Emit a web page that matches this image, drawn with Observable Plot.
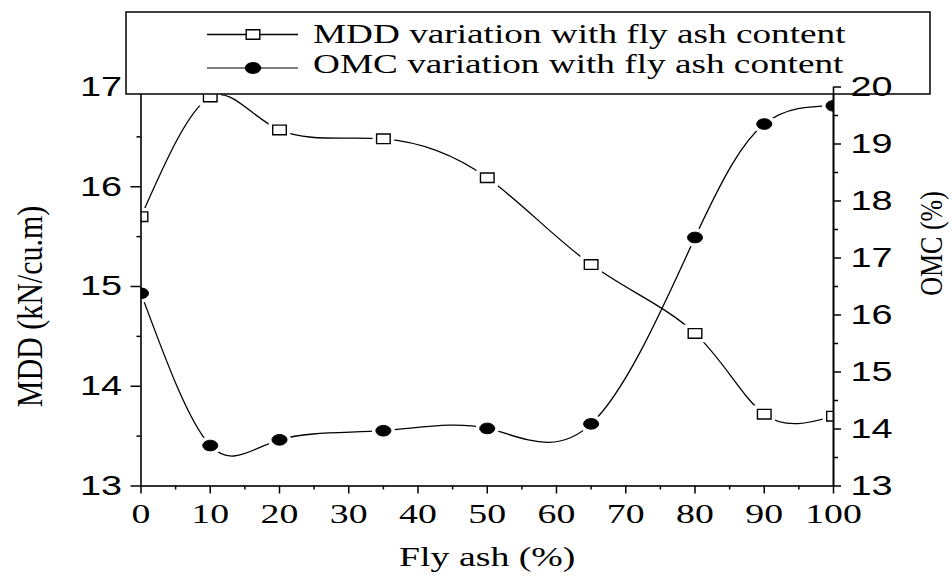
<!DOCTYPE html>
<html>
<head>
<meta charset="utf-8">
<script src="https://cdn.jsdelivr.net/npm/d3@7"></script>
<script src="https://cdn.jsdelivr.net/npm/@observablehq/plot@0.6"></script>
<style>
  html, body { margin: 0; padding: 0; background: #fff; }
  #chart { position: relative; width: 952px; height: 580px; }
</style>
</head>
<body>
<div id="chart"></div>
<script>
// ---- data ----
const flyAsh = [0, 10, 20, 35, 50, 65, 80, 90, 100];
const mddValues = [15.70, 16.90, 16.57, 16.48, 16.09, 15.22, 14.53, 13.72, 13.70];
const omcValues = [16.38, 13.71, 13.81, 13.97, 14.01, 14.09, 17.36, 19.35, 19.67];
const xTicks = [0, 10, 20, 30, 40, 50, 60, 70, 80, 90, 100];
const xMinorTicks = [5, 15, 25, 35, 45, 55, 65, 75, 85, 95];
const mddTicks = [13, 14, 15, 16, 17];
const mddMinorTicks = [13.5, 14.5, 15.5, 16.5];
const omcTicks = [13, 14, 15, 16, 17, 18, 19, 20];
const omcMinorTicks = [13.5, 14.5, 15.5, 16.5, 17.5, 18.5, 19.5];
const seriesNames = ["MDD variation with fly ash content", "OMC variation with fly ash content"];
const xDomain = [0, 100];
const mddDomain = [13, 17];
const omcDomain = [13, 20];

// map OMC onto the MDD (left) scale
const toLeft = v => mddDomain[0] + (v - omcDomain[0]) * (mddDomain[1] - mddDomain[0]) / (omcDomain[1] - omcDomain[0]);
const fromLeft = v => omcDomain[0] + (v - mddDomain[0]) * (omcDomain[1] - omcDomain[0]) / (mddDomain[1] - mddDomain[0]);

const mddRows = flyAsh.map((x, i) => ({x, y: mddValues[i]}));
const omcRows = flyAsh.map((x, i) => ({x, y: toLeft(omcValues[i])}));

// custom wide symbols (markers in the original are wider than tall)
const wideSquare = {draw(ctx) { const w = 6.8, h = 4.8; ctx.moveTo(-w, -h); ctx.lineTo(w, -h); ctx.lineTo(w, h); ctx.lineTo(-w, h); ctx.closePath(); }};
function ellipsePath(ctx, rx, ry) {
  const k = 0.5523;
  ctx.moveTo(rx, 0);
  ctx.bezierCurveTo(rx, ry * k, rx * k, ry, 0, ry);
  ctx.bezierCurveTo(-rx * k, ry, -rx, ry * k, -rx, 0);
  ctx.bezierCurveTo(-rx, -ry * k, -rx * k, -ry, 0, -ry);
  ctx.bezierCurveTo(rx * k, -ry, rx, -ry * k, rx, 0);
  ctx.closePath();
}
const wideCircle = {draw(ctx) { ellipsePath(ctx, 7.5, 5.3); }};

const serif = "Liberation Serif, Times New Roman, serif";
const sans = "Liberation Sans, Arial, sans-serif";

const plot = Plot.plot({
  width: 952,
  height: 580,
  marginLeft: 140.5,
  marginRight: 119,
  marginTop: 86.5,
  marginBottom: 94.5,
  style: {background: "transparent", color: "#000", fontFamily: serif},
  x: {domain: xDomain},
  y: {domain: mddDomain},
  marks: [
    Plot.line(mddRows, {x: "x", y: "y", curve: "natural", stroke: "#000", strokeWidth: 1.3, clip: true}),
    Plot.line(omcRows, {x: "x", y: "y", curve: "natural", stroke: "#000", strokeWidth: 1.3, clip: true}),
    Plot.dot(mddRows, {x: "x", y: "y", symbol: wideSquare, r: 5, fill: "#fff", stroke: "#fff", strokeWidth: 8, clip: true}),
    Plot.dot(omcRows, {x: "x", y: "y", symbol: wideCircle, r: 5, fill: "#fff", stroke: "#fff", strokeWidth: 8, clip: true}),
    Plot.dot(mddRows, {x: "x", y: "y", symbol: wideSquare, r: 5, fill: "#fff", stroke: "#000", strokeWidth: 1.4, clip: true}),
    Plot.dot(omcRows, {x: "x", y: "y", symbol: wideCircle, r: 5, fill: "#000", stroke: "#000", strokeWidth: 1, clip: true}),
    Plot.frame({stroke: "#000", strokeWidth: 1.6}),
    Plot.axisX({ticks: xTicks, tickSize: 8, tickPadding: 9, strokeWidth: 1.5, fontSize: 28, fontFamily: serif, tickFormat: d => String(d), label: null}),
    Plot.axisX({ticks: xMinorTicks, tickSize: 4, strokeWidth: 1.5, tickFormat: () => "", label: null}),
    Plot.axisY({ticks: mddTicks, anchor: "left", tickSize: 10, tickPadding: 9, strokeWidth: 1.5, fontSize: 28, fontFamily: sans, tickFormat: d => String(d), label: null}),
    Plot.axisY({ticks: mddMinorTicks, anchor: "left", tickSize: 4, strokeWidth: 1.5, tickFormat: () => "", label: null}),
    Plot.text(["MDD (kN/cu.m)"], {frameAnchor: "left", textAnchor: "middle", lineAnchor: "middle", rotate: -90, dx: -111, dy: 20, fontSize: 30, fontFamily: serif, fill: "#000"}),
    Plot.text(["Fly ash (%)"], {frameAnchor: "bottom", textAnchor: "middle", lineAnchor: "middle", dy: 71, fontSize: 28, fontFamily: serif, fill: "#000"}),
    // --- above legend box ---
    Plot.ruleX([xDomain[1]], {stroke: "#000", strokeWidth: 1.6, ariaDescription: "right-axis"}),
    Plot.axisY({ticks: omcTicks.map(toLeft), anchor: "right", tickSize: 7, tickPadding: 10, strokeWidth: 1.5, fontSize: 28, fontFamily: sans, tickFormat: d => String(Math.round(fromLeft(d))), label: null}),
    Plot.axisY({ticks: omcMinorTicks.map(toLeft), anchor: "right", tickSize: 4, strokeWidth: 1.5, tickFormat: () => "", label: null}),
    Plot.text(["OMC (%)"], {frameAnchor: "right", textAnchor: "middle", lineAnchor: "middle", rotate: -90, dx: 99, dy: -43, fontSize: 26, fontFamily: serif, fill: "#000"})
  ]
});

const svg = d3.select(plot);
// horizontal stretch of text (original figure is stretched)
svg.selectAll("text").each(function() {
  const t = this.getAttribute("transform");
  if (t) {
    const rot = /rotate/.test(t);
    this.setAttribute("transform", t + (rot ? " scale(1,1.2)" : " scale(1.35,1)"));
  } else {
    const x = +this.getAttribute("x") || 0, y = +this.getAttribute("y") || 0;
    this.removeAttribute("x"); this.removeAttribute("y");
    this.setAttribute("transform", `translate(${x},${y}) scale(1.35,1)`);
  }
});

// legend box, inserted below the right axis
const anchorNode = plot.querySelector('[aria-description="right-axis"]');
const legend = document.createElementNS("http://www.w3.org/2000/svg", "g");
plot.insertBefore(legend, anchorNode);
const lg = d3.select(legend);
lg.append("rect").attr("x", 126).attr("y", 12).attr("width", 804).attr("height", 82)
  .attr("fill", "#fff").attr("stroke", "#111").attr("stroke-width", 1.6);
const rows = [
  {name: seriesNames[0], ly: 34.5, ty: 43, sym: wideSquare, fill: "#fff", line: "#000"},
  {name: seriesNames[1], ly: 68, ty: 73, sym: wideCircle, fill: "#000", line: "#555"}
];
rows.forEach(r => {
  lg.append("line").attr("x1", 207).attr("x2", 298).attr("y1", r.ly).attr("y2", r.ly)
    .attr("stroke", r.line).attr("stroke-width", 1.3);
  lg.append("path").attr("d", d3.symbol(r.sym)()).attr("transform", `translate(253,${r.ly})`)
    .attr("fill", r.fill).attr("stroke", "#000").attr("stroke-width", 1.4);
  lg.append("text").text(r.name).attr("transform", `translate(313,${r.ty}) scale(1.33,1)`)
    .attr("text-anchor", "start")
    .attr("font-family", serif).attr("font-size", 28).attr("fill", "#000");
});

document.getElementById("chart").appendChild(plot);
</script>
</body>
</html>
